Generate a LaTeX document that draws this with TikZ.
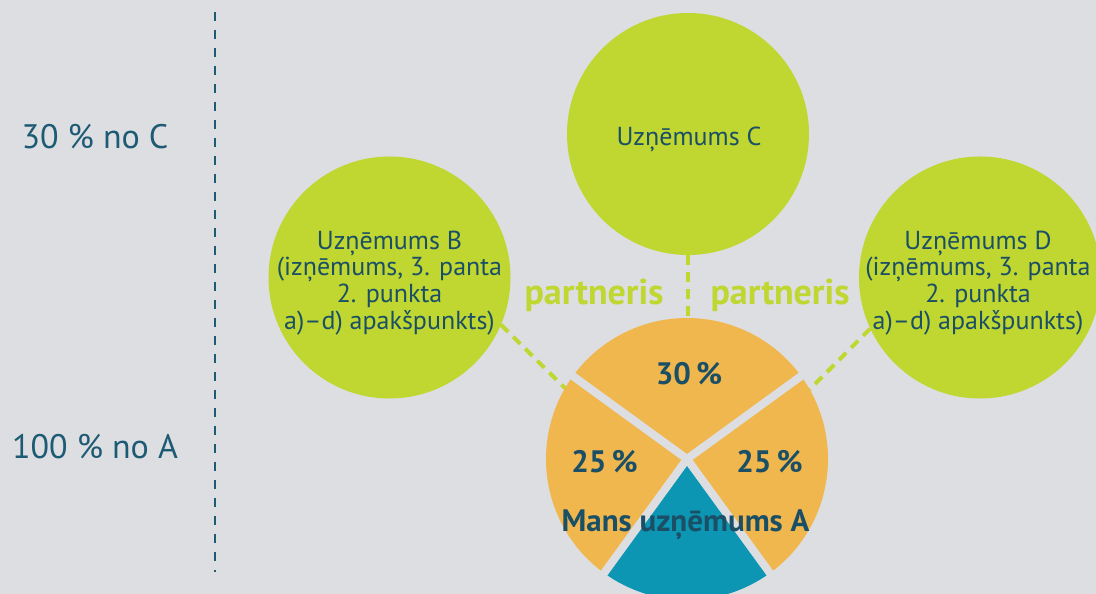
\documentclass[tikz,border=0pt]{standalone}
\usepackage{fontspec}
\setmainfont{PT Sans}
\begin{document}
\begin{tikzpicture}[x=1pt,y=1pt,
  firm/.style={circle,fill=lime,minimum size=242pt,inner sep=0pt},
  firmtext/.style={text=ink,align=center,font=\fontsize{26}{26.7}\selectfont},
  sidelabel/.style={text=ink2,font=\fontsize{34}{36}\selectfont},
  link/.style={draw=lime,line width=4pt,dash pattern=on 10pt off 7pt},
  divider/.style={draw=ink2,line width=2.3pt,dash pattern=on 9pt off 9pt},
  partner/.style={text=lime,font=\bfseries\fontsize{36}{38}\selectfont,anchor=base},
  share/.style={text=ink,font=\bfseries\fontsize{31}{33}\selectfont,anchor=base},
  gap/.style={draw=bg,line width=8pt}
]
\definecolor{bg}{HTML}{DDDEE2}
\definecolor{lime}{HTML}{BFD730}
\definecolor{orng}{HTML}{F0B74E}
\definecolor{teal}{HTML}{0C96B3}
\definecolor{ink}{HTML}{1B4F66}
\definecolor{ink2}{HTML}{1D5A73}
\fill[bg] (0,0) rectangle (1096,594);
\useasboundingbox (0,0) rectangle (1096,594);

% left scale
\coordinate (dtop) at (215,582);
\coordinate (dbot) at (215,22);
\draw[divider] (dtop) -- (dbot);
\node[sidelabel] (lc) at (95,457) {30 \% no C};
\node[sidelabel] (la) at (95,147) {100 \% no A};

% pie centre and free ends
\coordinate (P) at (687,135);
\coordinate (Bend) at (575,196);
\coordinate (Dend) at (800,195);

% firms
\node[firm] (C) at (688,460) {};
\node[firm] (B) at (389.5,316.5) {};
\node[firm] (D) at (980,316.5) {};

% connectors
\draw[link] (B.-23) -- (Bend);
\draw[link] (D.205) -- (Dend);
\draw[link] (C.south) -- (C.south |- P);

% texts in circles
\node[firmtext] (Ct) at (689,455) {Uzņēmums C};
\node[firmtext] (Bt) at (389.5,311) {Uzņēmums B\\(izņēmums, 3. panta\\2. punkta\\a)–d) apakšpunkts)};
\node[firmtext] (Dt) at (978,311) {Uzņēmums D\\(izņēmums, 3. panta\\2. punkta\\a)–d) apakšpunkts)};

% pie
\fill[orng] (P) -- ++(36:141) arc[start angle=36,end angle=144,radius=141] -- cycle;
\fill[orng] (P) -- ++(-54:141) arc[start angle=-54,end angle=36,radius=141] -- cycle;
\fill[orng] (P) -- ++(144:141) arc[start angle=144,end angle=234,radius=141] -- cycle;
\fill[teal] (P) -- ++(-126:141) arc[start angle=-126,end angle=-54,radius=141] -- cycle;
\foreach \a in {36,144,234,306} \draw[gap] (P) -- ++(\a:150);

\node[share] (s30) at (689,209) {30\,\%};
\node[share] (s25l) at (604.5,121) {25\,\%};
\node[share] (s25r) at (769.5,121) {25\,\%};
\node[share] (mine) at (685.5,62) {Mans uzņēmums A};

\node[partner] (p1) at (594,289) {partneris};
\node[partner] (p2) at (780,289) {partneris};
\end{tikzpicture}
\end{document}
